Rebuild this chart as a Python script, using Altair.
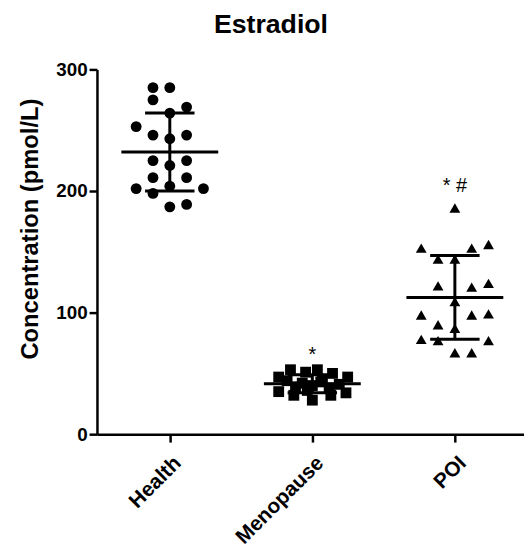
import json
import altair as alt
import pandas as pd

groups = ["Health", "Menopause", "POI"]
shapes = ["circle", "square", "triangle-up"]

health = [285, 285, 275, 269, 264, 253, 246, 246, 243, 225, 225, 221, 211, 211, 202, 198, 204, 202, 187, 189]
health_slot = [-1, 0, -1, 1, 0, -2, -1, 1, 0, -1, 1, 0, -1, 1, -2, -1, 0, 2, 0, 1]

menopause = [53, 51, 53, 50, 47, 47, 35, 32, 28, 32, 34, 44, 42, 45, 41, 39, 40, 38, 36, 43]
meno_slot = [-1.3, -0.4, 0.3, 1.2, 2.1, -2, -2, -1.1, 0, 1.1, 2, -1.5, -0.6, 0.6, 1.6, -1, 0, 1, -0.3, 0.5]

poi = [186, 153, 153, 156, 144, 144, 122, 121, 124, 109, 98, 98, 99, 90, 87, 78, 77, 77, 67, 67]
poi_slot = [0, -2, 1, 2, -1, 0, -1, 1, 2, 0, -2, 1, 2, -1, 0, -2, -1, 2, 0, 1]

ann_groups = ["Menopause", "POI"]
ann_text = ["*", "* #"]
ann_y = [65, 204]

rows = []
for g, vals, slots in zip(groups, [health, menopause, poi], [health_slot, meno_slot, poi_slot]):
    for v, s in zip(vals, slots):
        rows.append({"group": g, "idx": groups.index(g), "value": v, "slot": s})
df = pd.DataFrame(rows)

ann = pd.DataFrame({
    "group": ann_groups,
    "idx": [groups.index(g) for g in ann_groups],
    "text": ann_text,
    "value": ann_y,
})

FONT = "Liberation Sans"
JITTER = 0.118  # horizontal spread step of the scatter columns, in category units

x_scale = alt.Scale(domain=[-0.511, 2.485], nice=False, zero=False)
y_scale = alt.Scale(domain=[0, 300], nice=False)

x_axis = alt.Axis(
    values=[0, 1, 2], labelExpr=f"{json.dumps(groups)}[datum.value]", title=None,
    grid=False, labelAngle=-45, labelAlign="right", labelBaseline="top",
    labelFontSize=21, labelFontWeight="bold", labelFont=FONT, labelColor="black",
    tickSize=8, tickWidth=2.5, tickColor="black", domainWidth=2.5, domainColor="black",
    labelPadding=10, labelOverlap=False,
)
y_axis = alt.Axis(
    values=[0, 100, 200, 300], title="Concentration (pmol/L)", grid=False,
    titleFontSize=24, titleFontWeight="bold", titleFont=FONT, titleColor="black",
    titleX=-67, titleY=161, titleAlign="center", titleBaseline="middle",
    labelFontSize=19, labelFontWeight="bold", labelFont=FONT, labelColor="black",
    labelPadding=2, tickSize=8, tickWidth=2.5, tickColor="black",
    domainWidth=2.5, domainColor="black",
)

def X(field="idx:Q"):
    return alt.X(field, scale=x_scale, axis=x_axis)

def Y(field):
    return alt.Y(field, scale=y_scale, axis=y_axis)

points = alt.Chart(df).transform_calculate(
    xpos=f"datum.idx + datum.slot * {JITTER}"
).mark_point(filled=True, size=120, color="black", opacity=1).encode(
    x=X("xpos:Q"),
    y=Y("value:Q"),
    shape=alt.Shape("group:N", scale=alt.Scale(domain=groups, range=shapes), legend=None),
)

base = alt.Chart(df).transform_aggregate(
    mean="mean(value)", sd="stdev(value)", groupby=["idx"]
).transform_calculate(
    hi="datum.mean + datum.sd", lo="datum.mean - datum.sd"
)

mean_rule = base.mark_rule(strokeWidth=3, color="black", xOffset=-49, x2Offset=49).encode(
    x=X(), x2="idx:Q", y=Y("mean:Q")
)
cap_hi = base.mark_rule(strokeWidth=3, color="black", xOffset=-25, x2Offset=25).encode(
    x=X(), x2="idx:Q", y=Y("hi:Q")
)
cap_lo = base.mark_rule(strokeWidth=3, color="black", xOffset=-25, x2Offset=25).encode(
    x=X(), x2="idx:Q", y=Y("lo:Q")
)
vert = base.mark_rule(strokeWidth=3, color="black").encode(
    x=X(), y=Y("lo:Q"), y2="hi:Q"
)

labels = alt.Chart(ann).mark_text(fontSize=20, font=FONT, color="black", baseline="middle").encode(
    x=X(), y=Y("value:Q"), text="text:N"
)

chart = alt.layer(points, mean_rule, cap_hi, cap_lo, vert, labels).properties(
    width=432,
    height=369,
    padding={"left": 90, "top": 59, "right": 0, "bottom": 113},
    autosize=alt.AutoSizeParams(type="none"),
    title=alt.TitleParams("Estradiol", fontSize=27, font=FONT, fontWeight="bold",
                          color="black", dx=-40, offset=22),
    background="white",
).configure_view(stroke=None)

chart.save("out.html", embed_options={"renderer": "svg", "actions": False})
